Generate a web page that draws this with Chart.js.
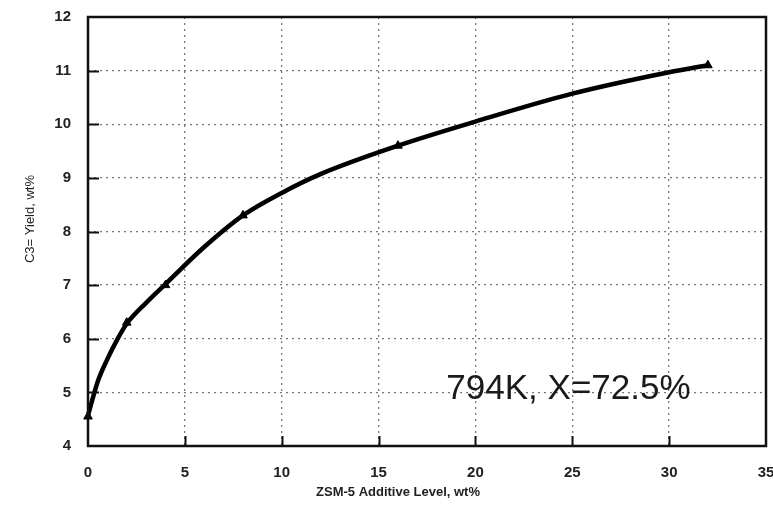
<!DOCTYPE html>
<html>
<head>
<meta charset="utf-8">
<script src="https://cdn.jsdelivr.net/npm/chart.js@4/dist/chart.umd.min.js"></script>
<style>
  html, body { margin: 0; padding: 0; background: #fff; }
</style>
</head>
<body>
<canvas id="yieldChart" width="773" height="518"></canvas>
<script>
// ZSM-5 additive level (wt%) vs C3= yield (wt%)
var additiveLevel = [0, 2, 4, 8, 16, 32];
var propyleneYield = [4.55, 6.3, 7.0, 8.3, 9.6, 11.1];
// fitted curve
var curveX = [0, 0.5, 1, 1.5, 2, 3, 4, 6, 8, 10, 12, 16, 20, 25, 30, 32];
var curveY = [4.57, 5.2, 5.62, 5.98, 6.28, 6.67, 7.02, 7.71, 8.3, 8.72, 9.07, 9.6, 10.05, 10.57, 10.97, 11.1];
var xTickValues = [0, 5, 10, 15, 20, 25, 30, 35];
var yTickValues = [4, 5, 6, 7, 8, 9, 10, 11, 12];
var xTitle = 'ZSM-5 Additive Level, wt%';
var yTitle = 'C3= Yield, wt%';
var noteText = '794K, X=72.5%';
var notePos = [18.5, 4.88];

var FONT = '"Liberation Sans", Arial, Helvetica, sans-serif';

function toPoints(xs, ys) {
    var out = [];
    for (var i = 0; i < xs.length; i++) {
        out.push({ x: xs[i], y: ys[i] });
    }
    return out;
}

// frame, inward tick marks, axis titles and the run condition note
var framePlugin = {
    id: 'frameAndNotes',
    afterDatasetsDraw: function (chart) {
        var ctx = chart.ctx;
        var a = chart.chartArea;
        var xs = chart.scales.x;
        var ys = chart.scales.y;
        ctx.save();
        ctx.strokeStyle = '#111';
        ctx.lineWidth = 2;
        ctx.setLineDash([]);

        // inward ticks
        ctx.beginPath();
        for (var i = 1; i < xTickValues.length - 1; i++) {
            var px = Math.round(xs.getPixelForValue(xTickValues[i])) + 0.5;
            ctx.moveTo(px, a.bottom);
            ctx.lineTo(px, a.bottom - 10);
        }
        for (var j = 1; j < yTickValues.length - 1; j++) {
            var py = Math.round(ys.getPixelForValue(yTickValues[j])) + 0.5;
            ctx.moveTo(a.left, py);
            ctx.lineTo(a.left + 11, py);
        }
        ctx.stroke();

        ctx.lineWidth = 2.5;
        ctx.strokeRect(a.left, a.top, a.right - a.left, a.bottom - a.top);

        // axis titles
        ctx.fillStyle = '#222';
        ctx.font = 'bold 13px ' + FONT;
        ctx.textAlign = 'center';
        ctx.textBaseline = 'middle';
        ctx.fillText(xTitle, 398, 492);

        ctx.save();
        ctx.translate(30, 219);
        ctx.rotate(-Math.PI / 2);
        ctx.font = '13px ' + FONT;
        ctx.fillText(yTitle, 0, 0);
        ctx.restore();

        // note
        ctx.font = '35px ' + FONT;
        ctx.fillStyle = '#1a1a1a';
        ctx.textAlign = 'left';
        ctx.textBaseline = 'alphabetic';
        ctx.fillText(noteText, xs.getPixelForValue(notePos[0]), ys.getPixelForValue(notePos[1]));
        ctx.restore();
    }
};

function noScalePadding(s) {
    s.paddingLeft = 0;
    s.paddingRight = 0;
    s.paddingTop = 0;
    s.paddingBottom = 0;
}

var chart = new Chart(document.getElementById('yieldChart'), {
    type: 'line',
    data: {
        datasets: [{
            data: toPoints(curveX, curveY),
            borderColor: '#000',
            borderWidth: 4.5,
            cubicInterpolationMode: 'monotone',
            pointRadius: 0,
            clip: false
        }, {
            data: toPoints(additiveLevel, propyleneYield),
            showLine: false,
            borderColor: '#000',
            backgroundColor: '#000',
            pointStyle: 'triangle',
            pointRadius: 5,
            pointBorderWidth: 1,
            clip: false
        }]
    },
    options: {
        responsive: false,
        animation: false,
        layout: { padding: { top: 17, right: 7, left: 0, bottom: 0 } },
        plugins: {
            legend: { display: false },
            tooltip: { enabled: false }
        },
        scales: {
            x: {
                type: 'linear',
                min: 0,
                max: 35,
                afterBuildTicks: function (s) {
                    s.ticks = xTickValues.map(function (v) { return { value: v }; });
                },
                afterFit: function (s) { s.height = 72; noScalePadding(s); },
                grid: {
                    color: function (c) {
                        return (c.tick && (c.tick.value === 0 || c.tick.value === 35)) ? 'rgba(0,0,0,0)' : '#777';
                    },
                    lineWidth: 1.3,
                    drawTicks: false
                },
                border: { display: false, dash: [2, 4] },
                ticks: {
                    padding: 18,
                    color: '#222',
                    font: { family: FONT, size: 15, weight: 'bold' },
                    maxRotation: 0
                }
            },
            y: {
                type: 'linear',
                min: 4,
                max: 12,
                afterBuildTicks: function (s) {
                    s.ticks = yTickValues.map(function (v) { return { value: v }; });
                },
                afterFit: function (s) { s.width = 88; noScalePadding(s); },
                grid: {
                    color: function (c) {
                        return (c.tick && (c.tick.value === 4 || c.tick.value === 12)) ? 'rgba(0,0,0,0)' : '#777';
                    },
                    lineWidth: 1.3,
                    drawTicks: false
                },
                border: { display: false, dash: [2, 4] },
                ticks: {
                    padding: 17,
                    color: '#222',
                    font: { family: FONT, size: 15, weight: 'bold' }
                }
            }
        }
    },
    plugins: [framePlugin]
});
</script>
</body>
</html>
